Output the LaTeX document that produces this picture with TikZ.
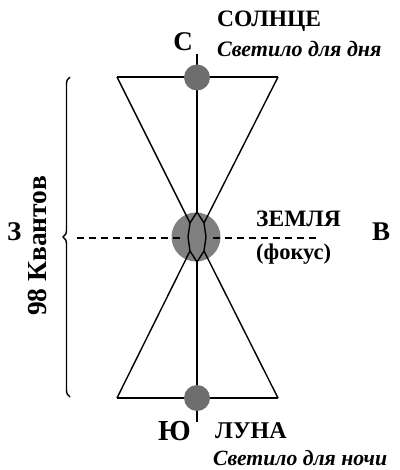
\documentclass[tikz,border=0pt]{standalone}
\usepackage{fontspec}
\setmainfont{Liberation Serif}
\usetikzlibrary{decorations.pathreplacing}
\tikzset{
  ln/.style={line width=1.4pt, black},
  dsh/.style={line width=1.4pt, dash pattern=on 7pt off 5pt},
  smallball/.style={circle, fill=black!57, minimum size=26pt, inner sep=0pt},
  bigball/.style={circle, fill=black!50, minimum size=49pt, inner sep=0pt},
  lbl/.style={inner sep=0pt},
  fbig/.style={font=\bfseries\fontsize{27}{27}\selectfont},
  fmid/.style={font=\bfseries\fontsize{23.5}{23.5}\selectfont},
  fital/.style={font=\bfseries\itshape\fontsize{22}{22}\selectfont},
}
\begin{document}
\begin{tikzpicture}[x=1pt,y=-1pt]
\useasboundingbox (0,0) rectangle (399,470);
% key coordinates
\coordinate (top) at (197,54);
\coordinate (bot) at (197,422);
\coordinate (TL) at (117,77);
\coordinate (TR) at (278,77);
\coordinate (BL) at (117,398);
\coordinate (BR) at (278,398);
\coordinate (T) at (197,212);
\coordinate (A) at (190,223);
\coordinate (Ep) at (204,223);
\coordinate (L) at (188,237);
\coordinate (R) at (206,237);
\coordinate (C) at (190,251);
\coordinate (D) at (204,251);
\coordinate (B) at (197,262);
\coordinate (dl1) at (77,238);
\coordinate (dl2) at (181,238);
\coordinate (dr1) at (213,238);
\coordinate (dr2) at (317,238);
\coordinate (br1) at (70,397);
\coordinate (br2) at (70,77);
% outer frame lines
\draw[ln] (TL) -- (TR);
\draw[ln] (BL) -- (BR);
\draw[ln] (top) -- (T);
\draw[ln] (B) -- (bot);
% central ball
\node[bigball] (earth) at (196,237) {};
% diagonals and inner zigzag
\draw[ln] (TL) -- (A);
\draw[ln] (TR) -- (Ep);
\draw[ln] (BL) -- (C);
\draw[ln] (BR) -- (D);
\draw[ln] (T) -- (A) -- (L) -- (C) -- (B) -- (D) -- (R) -- (Ep) -- cycle;
% dashed axis
\draw[dsh] (dl1) -- (dl2);
\draw[dsh] (dr1) -- (dr2);
% sun and moon balls
\node[smallball] (sun) at (197,77.5) {};
\node[smallball] (moon) at (197,398) {};
% brace
\draw[line width=1.4pt, decorate, decoration={brace, amplitude=7pt}] (br1) -- (br2);
% labels
\node[lbl, fbig, anchor=base] (N) at (183,51) {С};
\node[lbl, fmid, anchor=base west] (sunlbl) at (217,27) {СОЛНЦЕ};
\node[lbl, fital, anchor=base west] (sunsub) at (217,57) {Светило для дня};
\node[lbl, fmid, anchor=base west] (earthlbl) at (256,226) {ЗЕМЛЯ};
\node[lbl, anchor=base west, font=\bfseries\fontsize{22.5}{22.5}\selectfont] (focus) at (256,259) {(фокус)};
\node[lbl, fbig, anchor=base west] (East) at (372,240) {В};
\node[lbl, fbig, anchor=base west] (West) at (7,240) {З};
\node[lbl, rotate=90, font=\bfseries\fontsize{27.5}{27.5}\selectfont] (quanta) at (37,246) {98 Квантов};
\node[lbl, anchor=base west, font=\bfseries\fontsize{29}{29}\selectfont] (S) at (158,440) {Ю};
\node[lbl, anchor=base west, font=\bfseries\fontsize{24}{24}\selectfont] (moonlbl) at (215,438) {ЛУНА};
\node[lbl, fital, anchor=base west, font=\bfseries\itshape\fontsize{21.7}{21.7}\selectfont] (moonsub) at (213,465) {Светило для ночи};
\end{tikzpicture}
\end{document}
